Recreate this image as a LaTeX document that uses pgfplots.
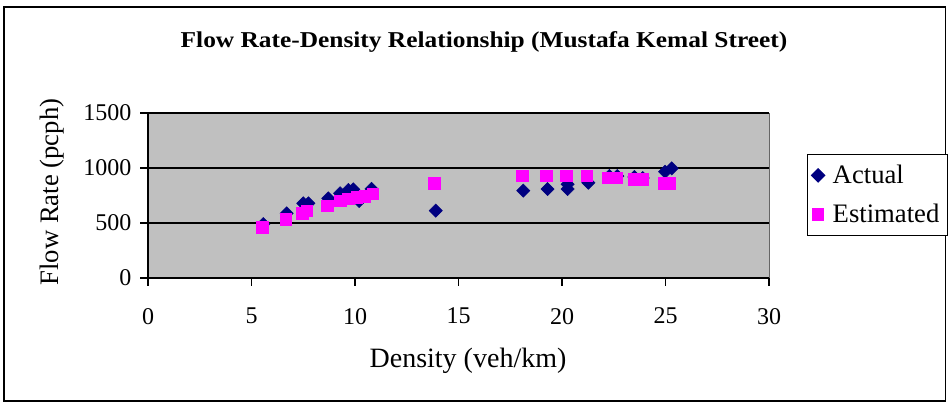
\documentclass[border=0pt]{standalone}
\usepackage{fontspec}
\setmainfont{Liberation Serif}
\usepackage{graphicx}
\usepackage{pgfplots}
\pgfplotsset{compat=1.18}
\definecolor{navyc}{HTML}{000080}
\definecolor{magc}{HTML}{FF00FF}
\definecolor{plotbg}{HTML}{C0C0C0}
\begin{document}
\begin{tikzpicture}
\useasboundingbox (0,0) rectangle (711pt,302.25pt);
\draw[black, line width=0.8pt] (3pt,1.5pt) rectangle (709pt,297pt);
\begin{axis}[
  at={(111pt,93.75pt)}, anchor=south west,
  width=465.75pt, height=123.75pt, scale only axis,
  xmin=0, xmax=30, ymin=0, ymax=1500,
  xtick={0,5,10,15,20,25,30}, ytick={0,500,1000,1500},
  axis x line=bottom, axis y line=left,
  axis line style={-, black, line width=0.8pt},
  axis background/.style={fill=plotbg, draw=gray!80!black},
  ymajorgrids, grid style={black, line width=0.8pt},
  tick align=outside, major tick length=6pt,
  tick style={black, line width=0.8pt},
  /pgf/number format/assume math mode=true,
  /pgf/number format/1000 sep={},
  tick label style={font=\fontsize{18}{20}\selectfont},
  xticklabel style={yshift=-13pt},
  yticklabel style={xshift=-3pt},
  legend style={at={(1.0612,0.503)}, anchor=west, draw=black, line width=0.8pt, fill=white,
    font=\fontsize{20}{23}\selectfont, row sep=10pt, inner xsep=3pt, inner ysep=6pt,
    nodes={inner xsep=3pt}, /tikz/every odd column/.append style={column sep=3pt}},
  legend cell align=left,
]
\addplot[only marks, mark=square*, mark size=3.5pt, mark options={rotate=45, fill=navyc, draw=navyc}] coordinates {
(5.57,490)(6.7,588)(7.5,679)(7.75,679)(8.71,724)(9.28,770)(9.68,800)(9.92,806)(10.2,700)(10.8,810)
(13.9,612)(18.13,794)(19.3,809)(20.27,852)(20.27,809)(21.27,866)(22.29,927)(22.67,927)
(23.5,918)(23.9,909)(24.98,966)(25.3,997)
};
\addlegendentry{Actual}
\addplot[only marks, mark=square*, mark size=4.3pt, mark options={fill=magc, draw=magc}] coordinates {
(5.52,461)(6.65,534)(7.45,588)(7.67,609)(8.66,657)(9.28,703)(9.68,718)(10.08,733)(10.48,745)(10.86,764)
(13.83,861)(18.08,930)(19.25,930)(20.2,930)(21.2,930)(22.24,912)(22.64,912)(23.5,897)(23.9,897)
(24.95,861)(25.2,861)
};
\addlegendentry{Estimated}
\end{axis}
\node at (363pt,270.75pt) {\scalebox{1.12}[1]{\fontsize{17}{20}\selectfont\bfseries Flow Rate-Density Relationship (Mustafa Kemal Street)}};
\node at (351pt,31.5pt) {\fontsize{21}{24}\selectfont Density (veh/km)};
\node[rotate=90] at (39pt,158.25pt) {\fontsize{20}{24}\selectfont Flow Rate (pcph)};
\end{tikzpicture}
\end{document}
